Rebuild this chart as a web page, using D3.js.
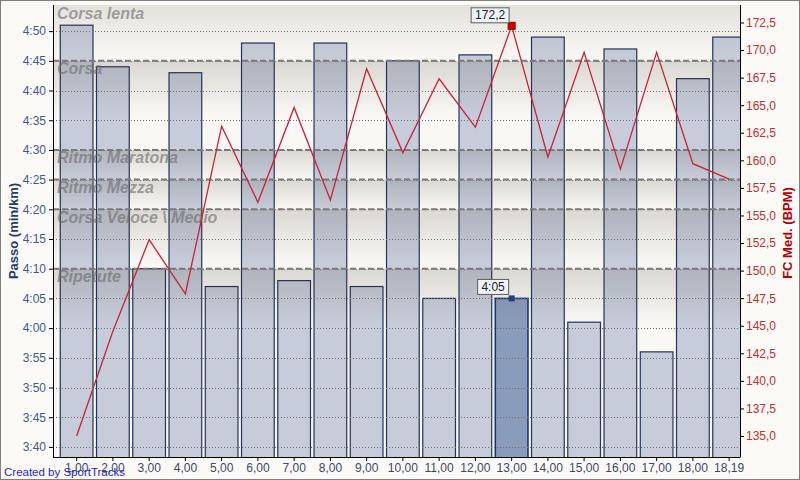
<!DOCTYPE html>
<html><head><meta charset="utf-8">
<script src="https://cdn.jsdelivr.net/npm/d3@7/dist/d3.min.js"></script>
<style>
html,body{margin:0;padding:0;background:#fbfaf7;}
svg{display:block;font-family:"Liberation Sans",Arial,sans-serif;}
</style></head>
<body>
<svg id="c" width="800" height="480"></svg>
<script>
// ---- data ----
const categories = ["1,00","2,00","3,00","4,00","5,00","6,00","7,00","8,00","9,00","10,00","11,00","12,00","13,00","14,00","15,00","16,00","17,00","18,00","18,19"];
// pace in seconds per km
const paceSeconds = [291,284,250,283,247,288,248,288,247,285,245,286,245,289,241,287,236,282,289];
const heartRate = [135.0,144.5,152.8,147.9,163.1,156.2,164.8,156.4,168.3,160.7,167.4,163.0,172.2,160.3,169.8,159.2,169.8,159.7,158.3];
const paceTicks = [220,225,230,235,240,245,250,255,260,265,270,275,280,285,290];
const hrTicks = [135,137.5,140,142.5,145,147.5,150,152.5,155,157.5,160,162.5,165,167.5,170,172.5];
const zoneNames = ["Corsa lenta","Corsa","Ritmo Maratona","Ritmo Mezza","Corsa Veloce \\ Medio","Ripetute"];
const zoneUpper = [null,285,270,265,260,250]; // null = top of chart
const zoneLower = [285,270,265,260,250,null];
const highlightIndex = 12;

// ---- layout ----
const L=53, R=740, T=5, B=457;
const svg = d3.select("#c");
svg.append("rect").attr("x",0.5).attr("y",0.5).attr("width",799).attr("height",479)
  .attr("fill","#fbfaf7").attr("stroke","#808080");

const x = d3.scaleBand().domain(categories).range([58.5,747.25]).paddingInner(0.07).paddingOuter(0.035);
const yP = d3.scaleLinear().domain([218.3,294.4]).range([B,T]);
const yH = d3.scaleLinear().domain([133.096,174.087]).range([B,T]);

const defs = svg.append("defs");
defs.append("clipPath").attr("id","plot").append("rect").attr("x",L).attr("y",T).attr("width",R-L).attr("height",B-T);

const plot = svg.append("g").attr("clip-path","url(#plot)");
plot.append("rect").attr("x",L).attr("y",T).attr("width",R-L).attr("height",B-T).attr("fill","#f9f8f4");

// bars
plot.selectAll("rect.bar").data(paceSeconds).join("rect").attr("class","bar")
  .attr("x",(d,i)=>x(categories[i])+0.5)
  .attr("y",d=>yP(d))
  .attr("width",x.bandwidth()-1)
  .attr("height",d=>B-yP(d)+2)
  .attr("fill",(d,i)=>i===highlightIndex?"#8a9cbc":"#c6ccd9")
  .attr("stroke",(d,i)=>i===highlightIndex?"#1a3a78":"#22345c")
  .attr("stroke-width",(d,i)=>i===highlightIndex?1.6:1.2);

// zone gradient overlays
zoneNames.forEach((n,i)=>{
  const top = zoneUpper[i]===null?T:yP(zoneUpper[i]);
  const bot = zoneLower[i]===null?B:yP(zoneLower[i]);
  const fade = Math.min(bot-top,55);
  const g = defs.append("linearGradient").attr("id","zg"+i).attr("gradientUnits","userSpaceOnUse")
    .attr("x1",0).attr("x2",0).attr("y1",top).attr("y2",top+fade);
  g.append("stop").attr("offset",0).attr("stop-color","#3a2e1e").attr("stop-opacity",i===0?0.11:0.16);
  g.append("stop").attr("offset",1).attr("stop-color","#3a2e1e").attr("stop-opacity",0);
  plot.append("rect").attr("x",L).attr("y",top).attr("width",R-L).attr("height",bot-top).attr("fill","url(#zg"+i+")");
});

// dotted grid
plot.selectAll("line.grid").data(paceTicks).join("line").attr("class","grid")
  .attr("x1",L).attr("x2",R).attr("y1",d=>Math.round(yP(d))+0.5).attr("y2",d=>Math.round(yP(d))+0.5)
  .attr("stroke","#707070").attr("stroke-width",1).attr("stroke-dasharray","1,2");

// dashed zone boundaries
const bounds = zoneUpper.filter(v=>v!==null);
plot.selectAll("line.zb").data(bounds).join("line").attr("class","zb")
  .attr("x1",L).attr("x2",R).attr("y1",d=>yP(d)).attr("y2",d=>yP(d))
  .attr("stroke","#7c7a78").attr("stroke-width",2).attr("stroke-dasharray","6,3");

// zone labels
plot.selectAll("text.zl").data(zoneNames).join("text").attr("class","zl")
  .attr("x",57).attr("y",(d,i)=>(zoneUpper[i]===null?T:yP(zoneUpper[i]))+13.5)
  .attr("font-size","16px").attr("font-weight","bold").attr("font-style","italic")
  .attr("fill","#6a6a6a").attr("fill-opacity",0.62).text(d=>d);

// HR line
const line = d3.line().x((d,i)=>x(categories[i])+x.bandwidth()/2).y(d=>yH(d));
plot.append("path").datum(heartRate).attr("d",line).attr("fill","none")
  .attr("stroke","#c8233a").attr("stroke-width",1.3);

// axes
const fmtPace = s=>Math.floor(s/60)+":"+String(s%60).padStart(2,"0");
const gl = svg.append("g").attr("transform",`translate(${L},0)`)
  .call(d3.axisLeft(yP).tickValues(paceTicks).tickFormat(fmtPace).tickSize(4).tickPadding(3).tickSizeOuter(0));
gl.select(".domain").attr("d",`M0.5,${T}V${B}`).attr("stroke","#000");
gl.selectAll("text").attr("fill","#3d5a8a").attr("font-size","12px").attr("font-family","Liberation Sans, Arial, sans-serif");
gl.selectAll("line").attr("stroke","#000");

const gr = svg.append("g").attr("transform",`translate(${R},0)`)
  .call(d3.axisRight(yH).tickValues(hrTicks).tickFormat(d=>d.toFixed(1).replace(".",",")).tickSize(4).tickPadding(2).tickSizeOuter(0));
gr.select(".domain").attr("d",`M0.5,${T}V${B}`).attr("stroke","#000");
gr.selectAll("text").attr("fill","#c0302e").attr("font-size","12px").attr("font-family","Liberation Sans, Arial, sans-serif");
gr.selectAll("line").attr("stroke","#000");

const gb = svg.append("g").attr("transform",`translate(0,${B})`)
  .call(d3.axisBottom(x).tickSize(4).tickPadding(2).tickSizeOuter(0));
gb.select(".domain").attr("d",`M${L},0.5H${R+0.5}`).attr("stroke","#000");
gb.selectAll("text").attr("fill","#3b4868").attr("font-size","12px").attr("font-family","Liberation Sans, Arial, sans-serif");
gb.selectAll("line").attr("stroke","#000");

// axis titles
svg.append("text").attr("transform","translate(18,231) rotate(-90)").attr("text-anchor","middle")
  .attr("font-size","13px").attr("font-weight","bold").attr("fill","#1f3a72").text("Passo (min/km)");
svg.append("text").attr("transform","translate(792,233) rotate(-90)").attr("text-anchor","middle")
  .attr("font-size","13px").attr("font-weight","bold").attr("fill","#b00000").text("FC Med. (BPM)");

// highlighted markers + labels
const hx = x(categories[highlightIndex])+x.bandwidth()/2;
const hrY = yH(heartRate[highlightIndex]);
svg.append("rect").attr("x",hx-3.5).attr("y",hrY-3.5).attr("width",7).attr("height",7)
  .attr("fill","#cc0000").attr("stroke","#9a0000");
const pY = yP(paceSeconds[highlightIndex]);
svg.append("rect").attr("x",hx-3).attr("y",pY-3).attr("width",6).attr("height",6)
  .attr("fill","#1f3f80");

function callout(cx, cy, w, txt){
  svg.append("rect").attr("x",cx-w/2+0.5).attr("y",cy-7.5+0.5).attr("width",w).attr("height",15)
    .attr("fill","#eef3f8").attr("stroke","#5a5a5a");
  svg.append("text").attr("x",cx+0.5).attr("y",cy+4.5).attr("text-anchor","middle")
    .attr("font-size","12px").attr("fill","#222").text(txt);
}
callout(hx-22, hrY-11, 38, heartRate[highlightIndex].toFixed(1).replace(".",","));
callout(hx-19, pY-12, 31, fmtPace(paceSeconds[highlightIndex]));

svg.append("text").attr("x",4).attr("y",476).attr("font-size","11.5px").attr("fill","#2525cc").text("Created by SportTracks");
</script>
</body></html>
